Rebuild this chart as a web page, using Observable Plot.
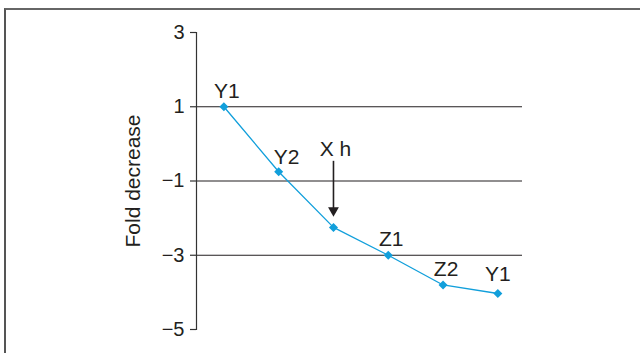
<!DOCTYPE html>
<html>
<head>
<meta charset="utf-8">
<script src="https://cdn.jsdelivr.net/npm/d3@7"></script>
<script src="https://cdn.jsdelivr.net/npm/@observablehq/plot@0.6"></script>
<style>
  html, body { margin: 0; padding: 0; background: #fff; }
  #wrap { position: relative; width: 640px; height: 353px; overflow: hidden; }
  #border { position: absolute; left: 4px; top: 8px; width: 700px; height: 400px;
            border-top: 2px solid #666; border-left: 2px solid #555; box-sizing: border-box; }
  svg { position: absolute; left: 0; top: 0; font-family: "Liberation Sans", Arial, sans-serif; }
</style>
</head>
<body>
<div id="wrap"><div id="border"></div></div>
<script>
// Data
const labels = ["Y1", "Y2", "", "Z1", "Z2", "Y1"];
const values = [1, -0.75, -2.25, -3, -3.8, -4.03];
const yTicks = [3, 1, -1, -3, -5];
const gridValues = [1, -1, -3];
const yLabel = "Fold decrease";
const annotation = "X h";
const annotationIndex = 2;

const data = values.map((v, i) => ({i, v, label: labels[i]}));
const annotated = data[annotationIndex];
const arrowData = [{i: annotated.i, v: annotated.v, top: annotated.v + 1.78}];
const blue = "#119fdb";
const ink = "#231f20";
const fmt = d => String(d).replace("-", "\u2212");
const textStyle = {fill: ink};

const chart = Plot.plot({
  width: 640,
  height: 353,
  marginLeft: 196,
  marginRight: 118,
  marginTop: 32,
  marginBottom: 24,
  style: {fontFamily: "Liberation Sans, Arial, sans-serif", color: ink, background: "transparent"},
  x: {domain: [-0.5, 5.45], axis: null},
  y: {domain: [-5, 3], axis: null},
  marks: [
    Plot.gridY(gridValues, {stroke: ink, strokeOpacity: 1, strokeWidth: 1.2}),
    Plot.frame({anchor: "left", stroke: "#333", strokeWidth: 1.2}),
    Plot.axisY(yTicks, {tickSize: 6, tickFormat: () => "", stroke: "#333", strokeWidth: 1.2, label: null}),
    Plot.text(yTicks, {y: d => d, frameAnchor: "left", dx: -12, text: fmt,
      textAnchor: "end", lineAnchor: "middle", fontSize: 20, ...textStyle}),
    Plot.text([yLabel], {frameAnchor: "left", rotate: -90, dx: -63, fontSize: 21,
      textAnchor: "middle", lineAnchor: "middle", ...textStyle}),
    Plot.line(data, {x: "i", y: "v", stroke: blue, strokeWidth: 1.3}),
    Plot.dot(data, {x: "i", y: "v", symbol: "square", rotate: 45, r: 3.6, fill: blue}),
    Plot.text(data.filter(d => d.label && d.label !== "Y2" && d.i < 5), {
      x: "i", y: "v", text: "label", fontSize: 21, ...textStyle,
      lineAnchor: "bottom", dy: -9, dx: 3
    }),
    Plot.text(data.filter(d => d.i === 5), {
      x: "i", y: "v", text: "label", fontSize: 21, ...textStyle,
      lineAnchor: "bottom", dy: -12, dx: 0
    }),
    Plot.text(data.filter(d => d.label === "Y2"), {
      x: "i", y: "v", text: "label", fontSize: 21, ...textStyle,
      lineAnchor: "bottom", dy: -8, dx: 8
    }),
    Plot.ruleX(arrowData, {x: "i", y1: "top", y2: "v", stroke: ink, strokeWidth: 1.6, insetBottom: 17}),
    Plot.dot(arrowData, {x: "i", y: "v", symbol: "triangle", rotate: 180, r: 4, fill: ink, dy: -17}),
    Plot.text(arrowData, {x: "i", y: "top", text: () => annotation, fontSize: 21, ...textStyle,
      lineAnchor: "bottom", dy: -5, dx: 2})
  ]
});
document.getElementById("wrap").appendChild(chart);
</script>
</body>
</html>
